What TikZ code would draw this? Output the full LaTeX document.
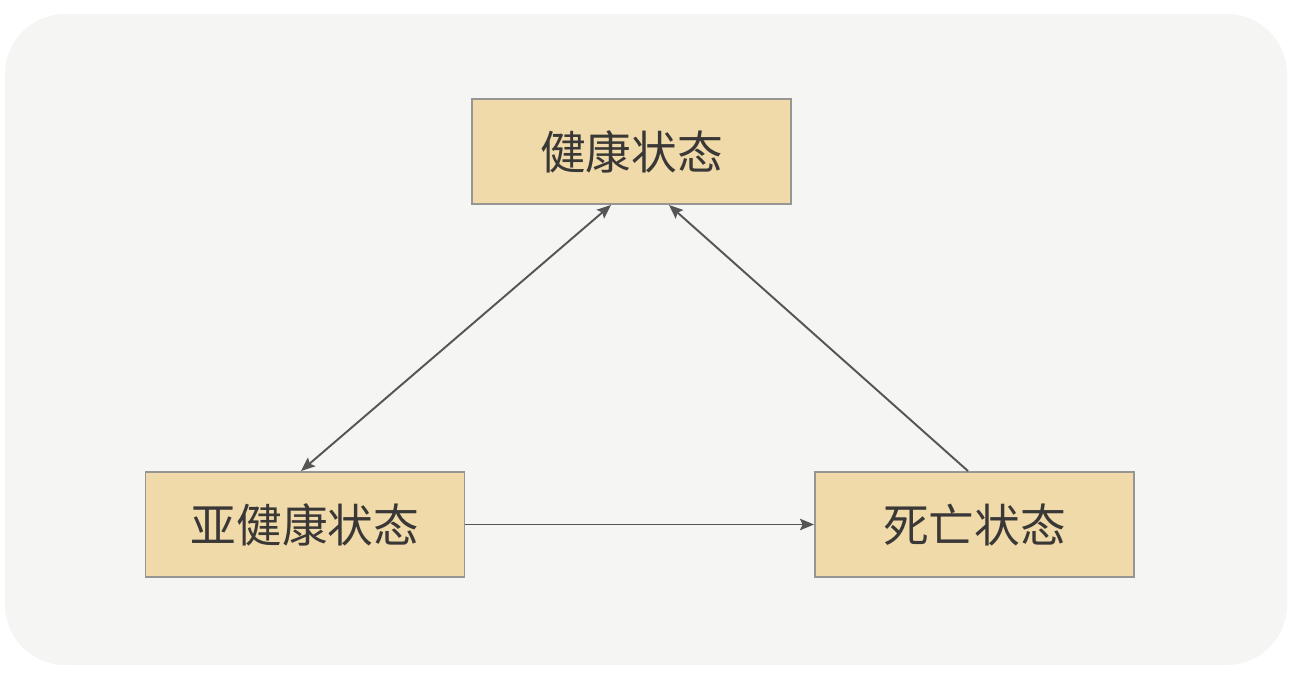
\documentclass[tikz,border=0pt]{standalone}
\usepackage{fontspec}
\setmainfont{Noto Sans CJK SC}
\usetikzlibrary{calc,arrows.meta,positioning}
\definecolor{panelGray}{RGB}{245,245,244}
\definecolor{boxTan}{RGB}{240,218,170}
\definecolor{boxEdge}{RGB}{152,150,146}
\definecolor{lineGray}{RGB}{85,85,85}
\definecolor{textDark}{RGB}{58,56,54}

\begin{document}
\begin{tikzpicture}[
  statebox/.style={draw=boxEdge,fill=boxTan,line width=1.1pt,minimum width=6.38cm,minimum height=2.1cm,inner sep=0pt,font=\fontsize{26}{30}\selectfont,text=textDark},
  link/.style={draw=lineGray,line width=1.1pt,-{Stealth[length=8pt,width=6.5pt,inset=1.5pt]}}
]
\useasboundingbox (0,0) rectangle (25.88,-13.56);
\fill[panelGray,rounded corners=1.2cm] (0.1,-0.28) rectangle (25.74,-13.3);
% the three states
\node[statebox] (healthy) at (12.63,-3.03) {健康状态};
\node[statebox] (subhealthy) at (6.1,-10.49) {亚健康状态};
\node[statebox] (dead) at (19.49,-10.49) {死亡状态};
% transitions
\draw[link,{Stealth[length=8pt,width=6.5pt,inset=1.5pt]}-{Stealth[length=8pt,width=6.5pt,inset=1.5pt]}] ([xshift=-0.41cm]healthy.south) -- ([xshift=-0.08cm]subhealthy.north);
\draw[link] ([xshift=-0.13cm]dead.north) -- ([xshift=0.75cm]healthy.south);
\draw[link] (subhealthy.east) -- (dead.west);
\end{tikzpicture}
\end{document}
